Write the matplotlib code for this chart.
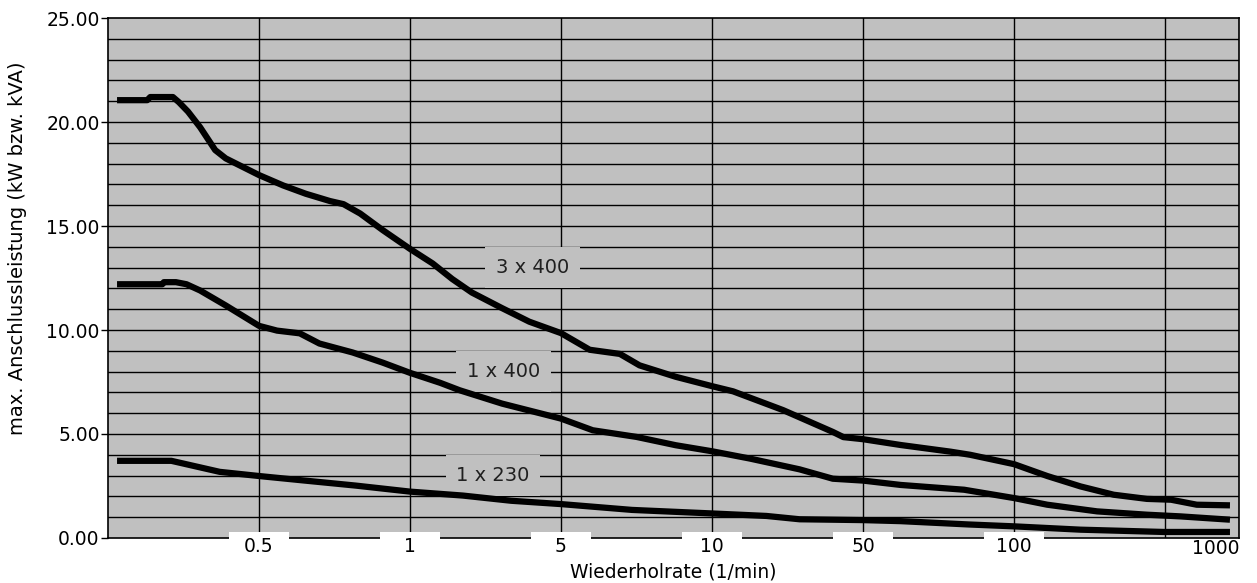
import numpy as np
import matplotlib.pyplot as plt
from matplotlib.patches import Rectangle
import matplotlib.transforms as mtransforms

# Kategorien der x-Achse (gleichabständig, keine echte log-Skala)
tick_pos = [1, 2, 3, 4, 5, 6]
tick_labels = ["0.5", "1", "5", "10", "50", "100"]
last_label = "1000"
vlines_pos = [1, 2, 3, 4, 5, 6, 7]

# 3 x 400
x_3x400 = [0.06, 0.26, 0.28, 0.43, 0.47, 0.53, 0.61, 0.71, 0.78, 0.89, 1.00,
           1.16, 1.31, 1.47, 1.56, 1.67, 1.82, 2.00, 2.15, 2.28, 2.41, 2.61,
           2.79, 3.00, 3.19, 3.39, 3.52, 3.76, 4.00, 4.14, 4.47, 4.80, 4.87,
           5.00, 5.25, 5.58, 5.71, 6.00, 6.22, 6.44, 6.66, 6.88, 7.04, 7.21,
           7.43]
y_3x400 = [21.05, 21.05, 21.2, 21.2, 20.95, 20.5, 19.75, 18.65, 18.25, 17.85,
           17.45, 16.95, 16.55, 16.2, 16.05, 15.6, 14.8, 13.9, 13.2, 12.45,
           11.8, 11.05, 10.4, 9.85, 9.05, 8.85, 8.3, 7.75, 7.3, 7.05, 6.15,
           5.1, 4.85, 4.75, 4.47, 4.15, 4.0, 3.55, 2.98, 2.48, 2.08, 1.88,
           1.84, 1.6, 1.57]

# 1 x 400
x_1x400 = [0.06, 0.36, 0.37, 0.45, 0.52, 0.61, 0.78, 1.00, 1.12, 1.27, 1.40,
           1.62, 1.82, 2.00, 2.20, 2.33, 2.61, 3.00, 3.21, 3.50, 3.76, 4.00,
           4.25, 4.58, 4.80, 5.00, 5.25, 5.67, 6.00, 6.22, 6.55, 6.88, 7.10,
           7.43]
y_1x400 = [12.2, 12.2, 12.3, 12.3, 12.2, 11.9, 11.18, 10.2, 9.97, 9.84, 9.35,
           8.92, 8.43, 7.94, 7.46, 7.1, 6.46, 5.74, 5.18, 4.86, 4.46, 4.17,
           3.82, 3.3, 2.85, 2.76, 2.55, 2.32, 1.92, 1.6, 1.28, 1.12, 1.04,
           0.88]

# 1 x 230
x_1x230 = [0.06, 0.42, 0.74, 1.00, 1.29, 1.64, 2.00, 2.35, 2.67, 3.00, 3.47,
           4.00, 4.36, 4.58, 5.00, 5.25, 5.70, 6.00, 6.44, 6.99, 7.43]
y_1x230 = [3.71, 3.71, 3.18, 2.98, 2.77, 2.52, 2.23, 2.04, 1.79, 1.63, 1.35,
           1.18, 1.06, 0.9, 0.86, 0.81, 0.65, 0.56, 0.4, 0.29, 0.29]

curve_labels = ["3 x 400", "1 x 400", "1 x 230"]
label_xy = [(2.81, 13), (2.62, 8), (2.55, 3)]

fig = plt.figure(figsize=(12.57, 5.83), dpi=100)
ax = fig.add_axes([0.0859, 0.0772, 0.8998, 0.8919])
ax.set_facecolor("#c0c0c0")

ax.set_xlim(0, 7.49)
ax.set_ylim(0, 25)

# Raster
for yv in np.arange(1, 25, 1):
    ax.axhline(yv, color="black", linewidth=1.0, zorder=1)
for xv in vlines_pos:
    ax.axvline(xv, color="black", linewidth=1.0, zorder=1)

# Kurvenbeschriftungen mit grauem Hintergrund
for txt, (lx, ly) in zip(curve_labels, label_xy):
    ax.text(lx, ly, txt, fontsize=14, ha="center", va="center", color="#202020",
            zorder=2, bbox=dict(boxstyle="square,pad=0.55", fc="#c0c0c0", ec="none"))

for xs, ys in [(x_3x400, y_3x400), (x_1x400, y_1x400), (x_1x230, y_1x230)]:
    ax.plot(xs, ys, color="black", linewidth=4.5, solid_capstyle="butt",
            solid_joinstyle="round", zorder=3)

# y-Achse
ax.set_yticks(np.arange(0, 26, 5))
ax.set_yticklabels([f"{v:.2f}" for v in np.arange(0, 26, 5)], fontsize=13.5)
ax.tick_params(axis="y", direction="out", length=5, width=1, pad=1)
ax.set_xticks([])

for sp in ax.spines.values():
    sp.set_color("black")
    sp.set_linewidth(1.2)

# x-Achsenbeschriftung mit weißen Kästchen
trans = mtransforms.blended_transform_factory(ax.transData, ax.transAxes)
for p, lab in zip(tick_pos, tick_labels):
    ax.add_patch(Rectangle((p - 0.2, -0.045), 0.4, 0.057, transform=trans,
                           fc="white", ec="none", clip_on=False, zorder=4))
    ax.text(p, -0.016, lab, transform=trans, ha="center", va="center",
            fontsize=13.5, zorder=5, clip_on=False)
ax.text(1.0, -0.02, last_label, transform=ax.transAxes, ha="right", va="center",
        fontsize=13.5, zorder=5, clip_on=False)

ax.set_xlabel("Wiederholrate (1/min)", fontsize=13.5, labelpad=0)
ax.xaxis.set_label_coords(0.5, -0.048)
ax.set_ylabel("max. Anschlussleistung (kW bzw. kVA)", fontsize=14)
ax.yaxis.set_label_coords(-0.072, 0.558)

plt.savefig("out.png", dpi=100)
